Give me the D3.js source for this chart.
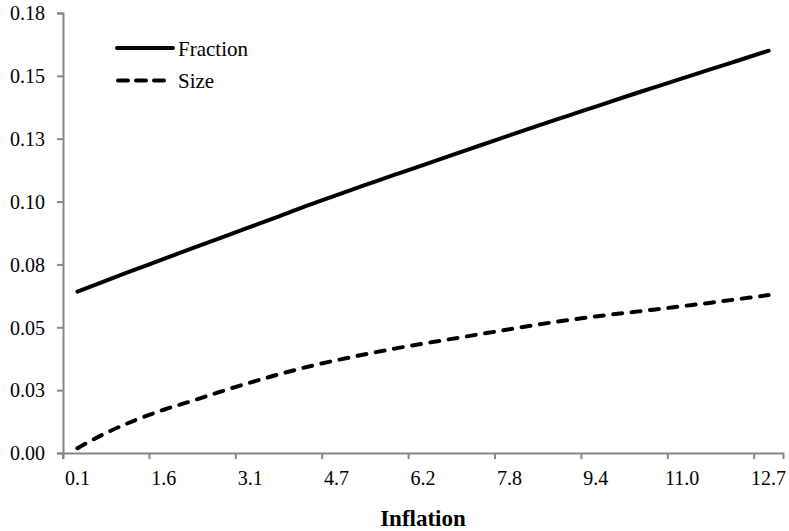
<!DOCTYPE html>
<html>
<head>
<meta charset="utf-8">
<script src="https://cdn.jsdelivr.net/npm/d3@7"></script>
<style>
  html, body { margin: 0; padding: 0; background: #ffffff; }
  svg { display: block; }
</style>
</head>
<body>
<svg id="chart" width="789" height="531" font-family="Liberation Serif"></svg>
<script>
// ---- data ----
const categoryCount = 25;
const inflationLabels = ["0.1", "1.6", "3.1", "4.7", "6.2", "7.8", "9.4", "11.0", "12.7"];
const labelEvery = 3;
const fraction = [0.0642, 0.0686, 0.0729, 0.0772, 0.0815, 0.0857, 0.0899, 0.0941, 0.0985,
                  0.1026, 0.1066, 0.1106, 0.1145, 0.1185, 0.1224, 0.1263, 0.1302, 0.1340,
                  0.1378, 0.1416, 0.1453, 0.1490, 0.1527, 0.1563, 0.1600];
const size = [0.0019, 0.0080, 0.0130, 0.0172, 0.0208, 0.0245, 0.0280, 0.0313, 0.0343,
              0.0369, 0.0393, 0.0415, 0.0435, 0.0454, 0.0473, 0.0492, 0.0511, 0.0528,
              0.0543, 0.0557, 0.0570, 0.0584, 0.0598, 0.0613, 0.0628];
const yTickValues = [0, 0.025, 0.05, 0.075, 0.1, 0.125, 0.15, 0.175];
const yTickLabels = ["0.00", "0.03", "0.05", "0.08", "0.10", "0.13", "0.15", "0.18"];
const seriesNames = ["Fraction", "Size"];
const xTitle = "Inflation";

// ---- layout ----
const svg = d3.select("#chart");
const mLeft = 63, mRight = 783, mTop = 13, mBottom = 453;
const axisColor = "#868686";
const fontFam = "Liberation Serif";

const idx = d3.range(categoryCount);
const xBand = d3.scaleBand().domain(idx).range([mLeft, mRight]).padding(0);
const xPos = i => xBand(i) + xBand.bandwidth() / 2;
const y = d3.scaleLinear().domain([0, 0.175]).range([mBottom, mTop]);

svg.append("rect").attr("width", 789).attr("height", 531).attr("fill", "#fff");

// y axis
const yAxis = svg.append("g").attr("transform", `translate(${mLeft},0)`)
  .call(d3.axisLeft(y).tickValues(yTickValues)
    .tickFormat((d, i) => yTickLabels[i]).tickSizeOuter(0).tickSize(6).tickPadding(12))
  .attr("font-family", fontFam);
yAxis.select(".domain").attr("stroke", axisColor).attr("stroke-width", 2);
yAxis.selectAll(".tick line").attr("stroke", axisColor).attr("stroke-width", 2);
yAxis.selectAll(".tick text").style("font-size", "20px").attr("dy", "0.34em").attr("fill", "#000");

// x axis
const labelIdx = idx.filter(i => i % labelEvery === 0);
const xAxis = svg.append("g").attr("transform", `translate(0,${mBottom})`)
  .call(d3.axisBottom(xBand).tickValues(labelIdx)
    .tickFormat((d, i) => inflationLabels[i]).tickSizeOuter(0).tickSize(6).tickPadding(12))
  .attr("font-family", fontFam);
xAxis.select(".domain").attr("stroke", axisColor).attr("stroke-width", 2);
xAxis.selectAll(".tick line").attr("stroke", axisColor).attr("stroke-width", 2)
  .attr("x1", -xBand.bandwidth() / 2).attr("x2", -xBand.bandwidth() / 2);
xAxis.selectAll(".tick text").style("font-size", "20px").attr("fill", "#000");

// x title
svg.append("text").attr("x", (mLeft + mRight) / 2).attr("y", 526)
  .attr("text-anchor", "middle").attr("font-family", fontFam)
  .attr("font-size", 23).attr("font-weight", "bold").attr("fill", "#000")
  .text(xTitle);

// lines
const line = d3.line().x((d, i) => xPos(i)).y(d => y(d)).curve(d3.curveMonotoneX);
svg.append("path").datum(fraction).attr("d", line)
  .attr("fill", "none").attr("stroke", "#000").attr("stroke-width", 4)
  .attr("stroke-linecap", "round").attr("stroke-linejoin", "round");
svg.append("path").datum(size).attr("d", line)
  .attr("fill", "none").attr("stroke", "#000").attr("stroke-width", 4)
  .attr("stroke-dasharray", "9,9.5").attr("stroke-linecap", "round");

// legend
const lg = svg.append("g").attr("font-family", fontFam);
lg.append("line").attr("x1", 117).attr("x2", 173).attr("y1", 48).attr("y2", 48)
  .attr("stroke", "#000").attr("stroke-width", 4).attr("stroke-linecap", "round");
lg.append("text").attr("x", 178).attr("y", 56).attr("font-family", fontFam)
  .attr("font-size", 21).attr("fill", "#000").text(seriesNames[0]);
lg.append("line").attr("x1", 118).attr("x2", 164).attr("y1", 80.5).attr("y2", 80.5)
  .attr("stroke", "#000").attr("stroke-width", 4).attr("stroke-linecap", "round")
  .attr("stroke-dasharray", "10,8");
lg.append("text").attr("x", 178).attr("y", 88).attr("font-family", fontFam)
  .attr("font-size", 21).attr("fill", "#000").text(seriesNames[1]);
</script>
</body>
</html>
